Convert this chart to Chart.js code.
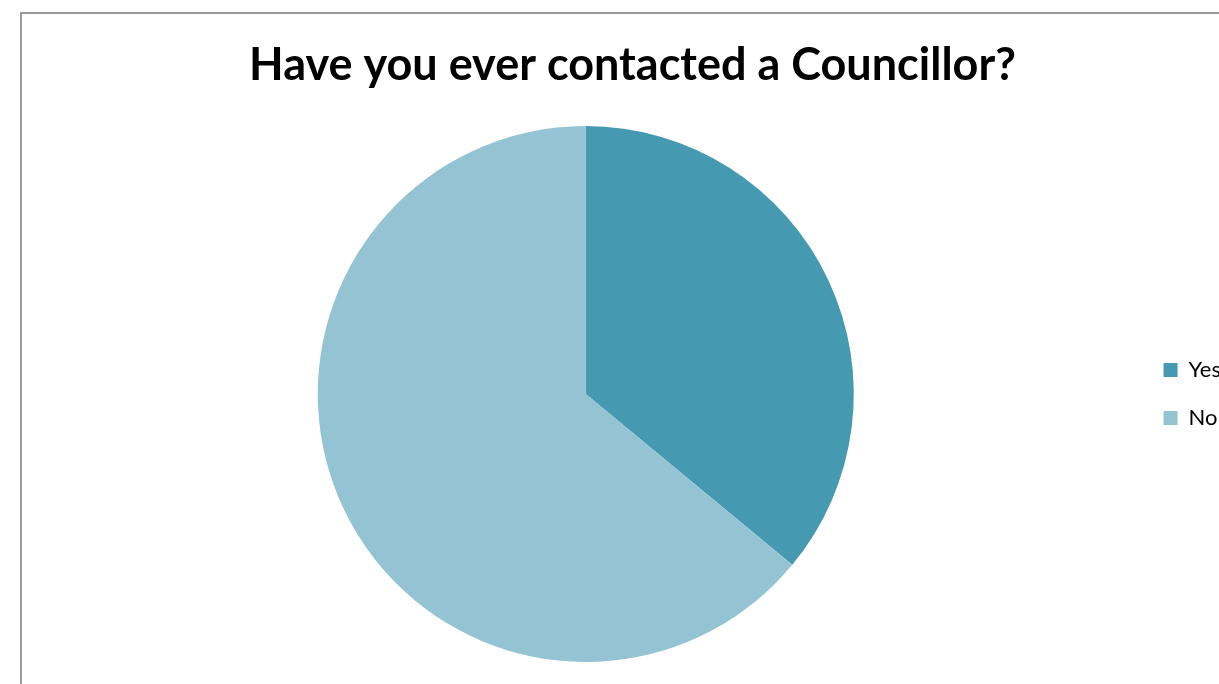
<!DOCTYPE html>
<html>
<head>
<meta charset="utf-8">
<script src="https://cdn.jsdelivr.net/npm/chart.js@4"></script>
<style>
  html, body { margin: 0; padding: 0; background: #fff; overflow: hidden; }
  body { width: 1219px; height: 684px; position: relative; }
  #frame {
    position: absolute; left: 20px; top: 12px; width: 1400px; height: 900px;
    border-left: 2px solid #9a9a9a; border-top: 2px solid #9a9a9a;
  }
  #wrap { position: absolute; left: 0; top: 0; width: 1240px; height: 684px; }
</style>
</head>
<body>
<div id="frame"></div>
<div id="wrap"><canvas id="chart"></canvas></div>
<script>
const categories = ["Yes", "No"];
const shares = [36, 64];
const sliceColors = ["#4599b1", "#94c3d4"];

// keep the legend centred on the pie rather than on the whole canvas height
const legendBesidePie = {
  id: "legendBesidePie",
  afterLayout(chart) {
    const lg = chart.legend;
    lg.top = chart.chartArea.top;
    lg.bottom = chart.chartArea.bottom;
    lg.height = lg.bottom - lg.top;
    lg.left -= 3;
    lg.right -= 3;
  },
};

window.onload = function () {
  var ctx = document.getElementById("chart").getContext("2d");

  var chart = new Chart(ctx, {
    type: "pie",
    data: {
      labels: categories,
      datasets: [
        {
          data: shares,
          backgroundColor: sliceColors,
          borderWidth: 0,
        },
      ],
    },
    options: {
      responsive: true,
      maintainAspectRatio: false,
      animation: false,
      layout: { padding: { left: 31, right: 6, top: 0, bottom: 22 } },
      plugins: {
        tooltip: { enabled: false },
        title: {
          display: true,
          text: "Have you ever contacted a Councillor?",
          color: "#000",
          font: { family: "Lato", size: 45, weight: "bold", lineHeight: 1.2 },
          padding: { top: 38, bottom: 34 },
        },
        legend: {
          position: "right",
          labels: {
            color: "#000",
            boxWidth: 14,
            boxHeight: 14,
            padding: 26,
            font: { family: "Lato", size: 22 },
          },
        },
      },
    },
    plugins: [legendBesidePie],
  });
};
</script>
</body>
</html>
